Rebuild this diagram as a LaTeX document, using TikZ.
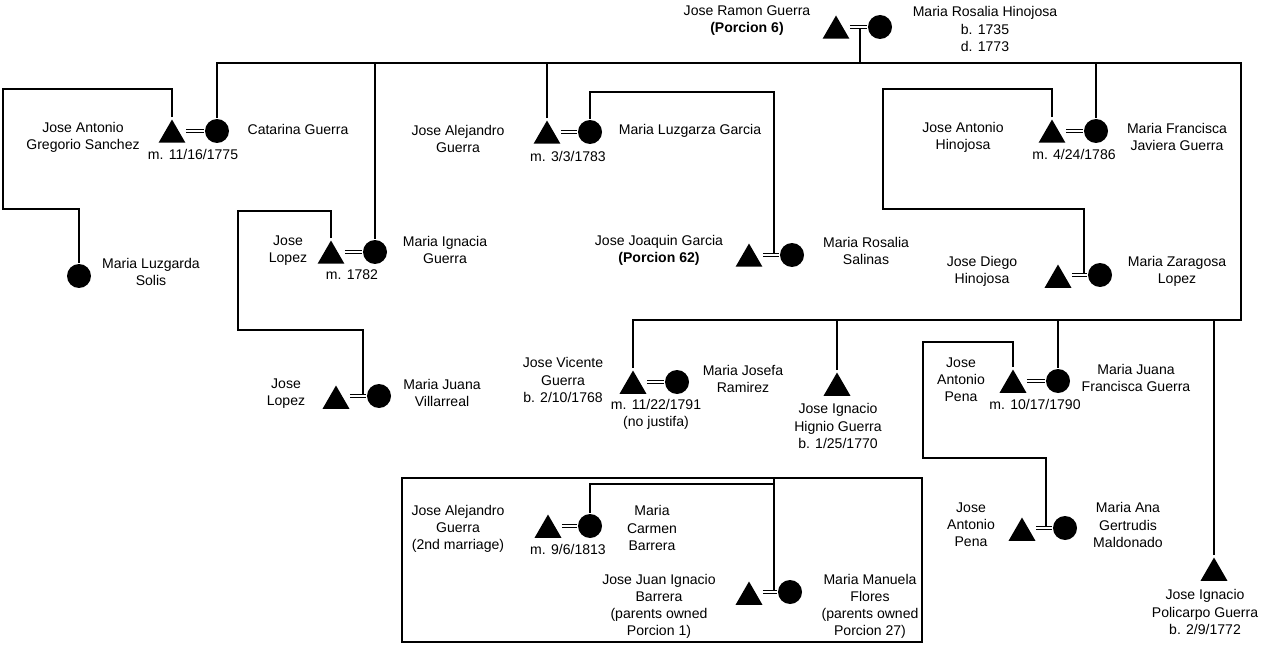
\documentclass[tikz,border=0pt]{standalone}
\usepackage{fontspec}
\setmainfont{Liberation Sans}
\usetikzlibrary{shapes.geometric}
\begin{document}
\begin{tikzpicture}[x=0.02cm,y=-0.02cm,line width=1.3pt,
	male/.style={regular polygon,regular polygon sides=3,fill=black,inner sep=0pt,minimum size=0.62cm},
	female/.style={circle,fill=black,inner sep=0pt,minimum size=0.48cm},
	who/.style={align=center,inner sep=0pt,font=\fontsize{8}{9.7}\selectfont},
	wed/.style={double,double distance=0.05cm,line width=0.6pt}]
	\useasboundingbox (0,0) rectangle (1263,645);

	%couples
	\node[male] (m0) at (836,31) {};
	\node[female] (f0) at (880,27) {};
	\node[male] (m1) at (172,135) {};
	\node[female] (f1) at (217,131) {};
	\node[female] (d1) at (79,276) {};
	\node[male] (m2) at (331,256) {};
	\node[female] (f2) at (375,252) {};
	\node[male] (m3) at (336,401) {};
	\node[female] (f3) at (379,396) {};
	\node[male] (m4) at (547,136) {};
	\node[female] (f4) at (590,132) {};
	\node[male] (m5) at (749,259) {};
	\node[female] (f5) at (792,255) {};
	\node[male] (m6) at (1052,135) {};
	\node[female] (f6) at (1096,131) {};
	\node[male] (m7) at (1058,280) {};
	\node[female] (f7) at (1100,275) {};
	\node[male] (m8) at (633,386) {};
	\node[female] (f8) at (677,382) {};
	\node[male] (m9) at (837,388) {};
	\node[male] (m10) at (1013,385) {};
	\node[female] (f10) at (1058,381) {};
	\node[male] (m11) at (1022,533) {};
	\node[female] (f11) at (1065,528) {};
	\node[male] (m12) at (1214,573) {};
	\node[male] (m13) at (548,530) {};
	\node[female] (f13) at (590,526) {};
	\node[male] (m14) at (749,597) {};
	\node[female] (f14) at (790,592) {};

	%marriages
	\foreach \i in {0,...,8,10,11,13,14}
		\draw[wed] ([xshift=2pt]m\i.east |- f\i) -- (f\i);

	%names
	\node[who] (t0) at (747,21) {Jose Ramon Guerra\\\textbf{(Porcion 6)}};
	\node[who] (t0f) at (985,29) {Maria Rosalia Hinojosa\\b. 1735\\d. 1773};
	\node[who] (t1) at (83,137) {Jose Antonio\\Gregorio Sanchez};
	\node[who] (t1d) at (193,154) {m. 11/16/1775};
	\node[who] (t1f) at (298,129) {Catarina Guerra};
	\node[who] (td1) at (151,272) {Maria Luzgarda\\Solis};
	\node[who] (t2) at (288,251) {Jose\\Lopez};
	\node[who] (t2d) at (352,275) {m. 1782};
	\node[who] (t2f) at (445,250) {Maria Ignacia\\Guerra};
	\node[who] (t3) at (286,394) {Jose\\Lopez};
	\node[who] (t3f) at (442,393) {Maria Juana\\Villarreal};
	\node[who] (t4) at (458,139) {Jose Alejandro\\Guerra};
	\node[who] (t4d) at (568,156) {m. 3/3/1783};
	\node[who] (t4f) at (690,131) {Maria Luzgarza Garcia};
	\node[who] (t5) at (659,250) {Jose Joaquin Garcia\\\textbf{(Porcion 62)}};
	\node[who] (t5f) at (866,251) {Maria Rosalia\\Salinas};
	\node[who] (t6) at (963,137) {Jose Antonio\\Hinojosa};
	\node[who] (t6d) at (1074,154) {m. 4/24/1786};
	\node[who] (t6f) at (1177,137) {Maria Francisca\\Javiera Guerra};
	\node[who] (t7) at (982,271) {Jose Diego\\Hinojosa};
	\node[who] (t7f) at (1177,271) {Maria Zaragosa\\Lopez};
	\node[who] (t8) at (563,380) {Jose Vicente\\Guerra\\b. 2/10/1768};
	\node[who] (t8d) at (656,414) {m. 11/22/1791\\(no justifa)};
	\node[who] (t8f) at (743,379) {Maria Josefa\\Ramirez};
	\node[who] (t9) at (838,426) {Jose Ignacio\\Hignio Guerra\\b. 1/25/1770};
	\node[who] (t10) at (961,380) {Jose\\Antonio\\Pena};
	\node[who] (t10d) at (1035,404) {m. 10/17/1790};
	\node[who] (t10f) at (1136,378) {Maria Juana\\Francisca Guerra};
	\node[who] (t11) at (971,525) {Jose\\Antonio\\Pena};
	\node[who] (t11f) at (1128,525) {Maria Ana\\Gertrudis\\Maldonado};
	\node[who] (t12) at (1205,612) {Jose Ignacio\\Policarpo Guerra\\b. 2/9/1772};
	\node[who] (t13) at (458,529) {Jose Alejandro\\Guerra\\(2nd marriage)};
	\node[who] (t13d) at (568,549) {m. 9/6/1813};
	\node[who] (t13f) at (652,528) {Maria\\Carmen\\Barrera};
	\node[who] (t14) at (659,606) {Jose Juan Ignacio\\Barrera\\(parents owned\\Porcion 1)};
	\node[who] (t14f) at (870,606) {Maria Manuela\\Flores\\(parents owned\\Porcion 27)};

	%descent points
	\coordinate (w0) at (860,28);
	\coordinate (bar1) at (0,63);
	\coordinate (bar2) at (0,320);
	\coordinate (w3) at (363,395);
	\coordinate (w5) at (774,254);
	\coordinate (w7) at (1084,274);
	\coordinate (w11) at (1046,527);
	\coordinate (w14) at (774,591);

	%children of the first couple
	\draw (w0) -- (w0 |- bar1);
	\draw (f1) |- (1241,63) -- (1241,320) -| (m8);
	\draw (f2) -- (f2 |- bar1);
	\draw (m4) -- (m4 |- bar1);
	\draw (f6) -- (f6 |- bar1);
	\draw (m9) -- (m9 |- bar2);
	\draw (f10) -- (f10 |- bar2);
	\draw (m12) -- (m12 |- bar2);

	%other lines
	\draw (m1) |- (3,89) |- (79,209) -- (d1);
	\draw (m2) |- (238,211) |- (363,330) -- (w3);
	\draw (f4) |- (774,92) -- (w5);
	\draw (m6) |- (883,89) |- (1084,209) -- (w7);
	\draw (m10) |- (923,342) |- (1046,458) -- (w11);
	\draw (w14) -- (774,478);
	\draw (f13) |- (774,484);

	%box
	\draw (402,478) rectangle (922,642);
\end{tikzpicture}
\end{document}
